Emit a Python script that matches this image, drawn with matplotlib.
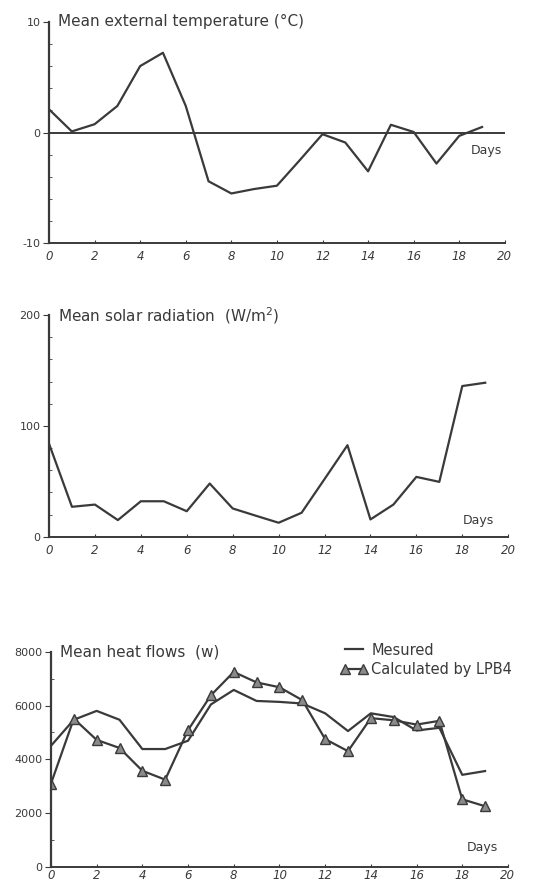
import numpy as np
import matplotlib
matplotlib.use('Agg')
from matplotlib import pyplot as plt

# Datos
days = list(range(20))

temp_ext = [2.1, 0.1, 0.75, 2.4, 6.0, 7.2, 2.4, -4.4, -5.5, -5.1,
            -4.8, -2.5, -0.15, -0.9, -3.5, 0.7, 0.05, -2.8, -0.3, 0.5]

solar = [84, 27, 29, 15, 32, 32, 23, 48, 25.5, 19,
         12.6, 21.6, 52, 82.6, 15.6, 29, 54, 49.5, 136, 139]

heat_mesured = [4500, 5470, 5800, 5470, 4380, 4380, 4690, 6040, 6580, 6170,
                6135, 6075, 5710, 5050, 5710, 5570, 5070, 5170, 3420, 3560]

heat_calc = [3090, 5510, 4720, 4420, 3570, 3240, 5085, 6380, 7250, 6860,
             6680, 6200, 4750, 4300, 5530, 5450, 5290, 5430, 2510, 2250]

ink = '#3a3a3a'
plt.rcParams['font.family'] = 'DejaVu Sans'
plt.rcParams['axes.unicode_minus'] = False
plt.rcParams['text.color'] = ink
plt.rcParams['axes.edgecolor'] = ink
plt.rcParams['xtick.color'] = ink
plt.rcParams['ytick.color'] = ink

fig = plt.figure(figsize=(5.6, 8.88), dpi=100)
fig.patch.set_facecolor('white')


def style_axes(ax, ylo, yhi, major, minor, xpad=5):
    ax.set_xlim(0, 20)
    ax.set_ylim(ylo, yhi)
    ax.spines['top'].set_visible(False)
    ax.spines['right'].set_visible(False)
    ax.spines['left'].set_linewidth(1.6)
    ax.spines['bottom'].set_linewidth(1.4)
    ax.set_xticks(np.arange(0, 21, 2))
    ax.set_yticks(major)
    ax.set_yticks(minor, minor=True)
    ax.tick_params(axis='x', direction='in', length=2, labelsize=8.5, pad=xpad)
    ax.tick_params(axis='y', which='major', direction='out', length=4, labelsize=8, pad=2)
    ax.tick_params(axis='y', which='minor', direction='in', length=2)
    for lab in ax.get_xticklabels():
        lab.set_style('italic')


# Temperatura exterior
ax1 = fig.add_axes([0.0875, 0.726, 0.814, 0.2495])
style_axes(ax1, -10, 10, [-10, 0, 10], np.arange(-8, 10, 2))
ax1.axhline(0, color=ink, lw=1.4)
ax1.plot(days, temp_ext, color=ink, lw=1.6)
ax1.text(0.02, 1.0, 'Mean external temperature (°C)', transform=ax1.transAxes,
         fontsize=11, va='center', ha='left')
ax1.text(19.2, -1.6, 'Days', fontsize=9, ha='center', va='center')

# Radiacion solar
ax2 = fig.add_axes([0.0875, 0.3956, 0.82, 0.2495])
style_axes(ax2, 0, 200, [0, 100, 200], np.arange(20, 200, 20))
ax2.plot(days, solar, color=ink, lw=1.6)
ax2.text(0.02, 1.0, 'Mean solar radiation  (W/m$^2$)', transform=ax2.transAxes,
         fontsize=11, va='center', ha='left')
ax2.text(18.7, 15, 'Days', fontsize=9, ha='center', va='center')

# Flujos de calor
ax3 = fig.add_axes([0.091, 0.024, 0.816, 0.242])
style_axes(ax3, 0, 8000, [0, 2000, 4000, 6000, 8000], np.arange(1000, 8000, 1000), xpad=2)
ax3.plot(days, heat_mesured, color=ink, lw=1.6, label='Mesured')
ax3.plot(days, heat_calc, color=ink, lw=1.6, marker='^', markersize=7,
         markerfacecolor='#8a8a8a', markeredgecolor=ink, label='Calculated by LPB4')
ax3.text(0.02, 1.0, 'Mean heat flows  (w)', transform=ax3.transAxes,
         fontsize=11, va='center', ha='left')
ax3.text(18.9, 700, 'Days', fontsize=9, ha='center', va='center')
ax3.legend(loc='upper left', bbox_to_anchor=(0.598, 0.283), bbox_transform=fig.transFigure,
           frameon=False, fontsize=10.5, numpoints=2, handlelength=1.8,
           handletextpad=0.3, borderaxespad=0, labelspacing=0.3)

plt.savefig('out.png', dpi=100, facecolor='white')
